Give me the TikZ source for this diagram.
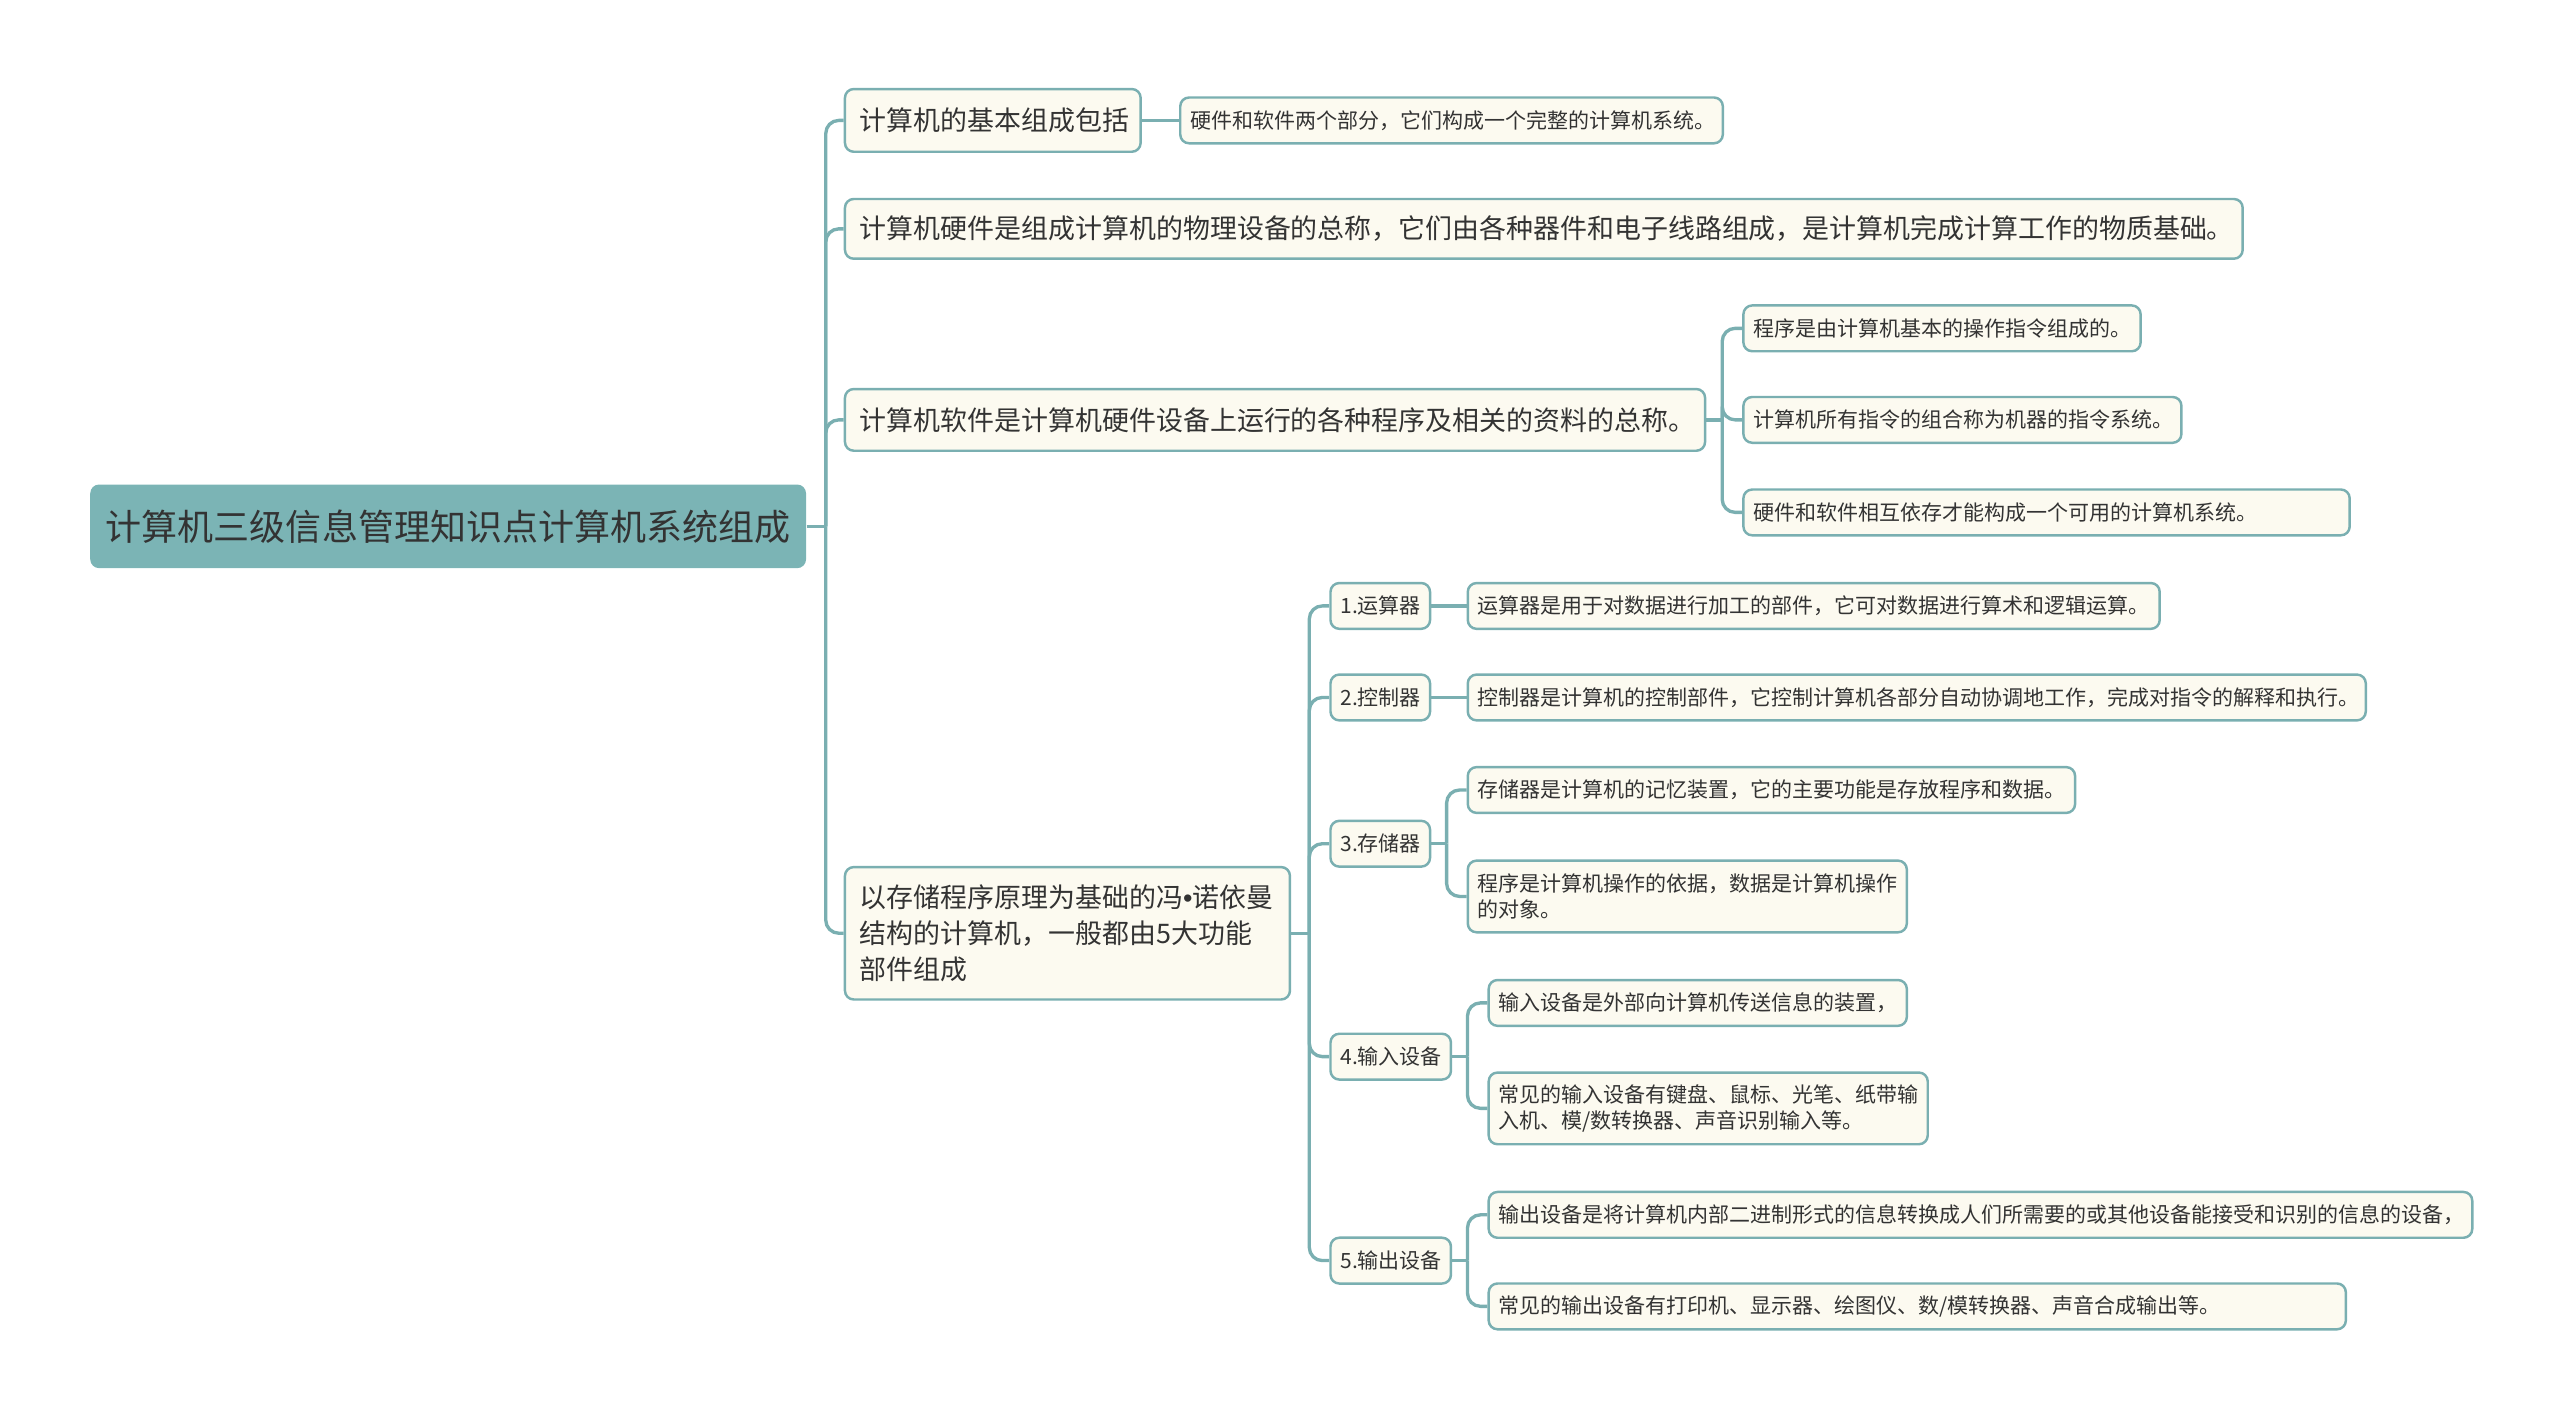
\documentclass[tikz,border=0pt]{standalone}
\usepackage{fontspec}
\setmainfont{Noto Sans CJK SC}
\newfontfamily\dotfont{Liberation Sans}
\definecolor{rootfill}{HTML}{7BB4B5}
\definecolor{branch}{HTML}{7AAFB1}
\definecolor{cream}{HTML}{FCFAF0}
\definecolor{ink}{HTML}{333333}

\begin{document}
\begin{tikzpicture}[x=0.01cm,y=-0.01cm,scale=0.995,every node/.style={transform shape},line join=round]
  \tikzstyle{box}=[draw=branch,fill=cream,line width=0.7pt,rounded corners=2.5pt,text=ink,anchor=west,align=left]
  \tikzstyle{root}=[fill=rootfill,rounded corners=2.5pt,text=ink,font=\fontsize{10.3}{12}\selectfont,minimum width=7.19cm,minimum height=0.84cm,inner sep=0pt,anchor=west]
  \tikzstyle{topic}=[box,font=\fontsize{7.7}{10.2}\selectfont,inner xsep=0.15cm,inner ysep=0pt]
  \tikzstyle{leaf}=[box,font=\fontsize{6}{7.5}\selectfont,inner xsep=0.1cm,inner ysep=0pt,minimum height=0.46cm]
  \tikzstyle{link}=[draw=branch,line width=0.95pt,rounded corners=0.13cm]

  \useasboundingbox (0,0) rectangle (2573,1428);

  \node[root] (root) at (90,529) {计算机三级信息管理知识点计算机系统组成};

  \node[topic,text width=2.67cm,minimum height=0.63cm] (A) at (848,121) {计算机的基本组成包括};
  \node[topic,text width=13.74cm,minimum height=0.60cm] (B) at (848,230) {计算机硬件是组成计算机的物理设备的总称，它们由各种器件和电子线路组成，是计算机完成计算工作的物质基础。};
  \node[topic,text width=8.34cm,minimum height=0.62cm] (C) at (848,422) {计算机软件是计算机硬件设备上运行的各种程序及相关的资料的总称。};
  \node[topic,text width=4.17cm,minimum height=1.33cm] (D) at (848,938) {以存储程序原理为基础的冯{\dotfont •}诺依曼\\结构的计算机，一般都由5大功能\\部件组成};

  \node[leaf,text width=5.25cm] (a1) at (1185,121) {硬件和软件两个部分，它们构成一个完整的计算机系统。};

  \node[leaf,text width=3.79cm] (c1) at (1751,330) {程序是由计算机基本的操作指令组成的。};
  \node[leaf,text width=4.20cm] (c2) at (1751,422) {计算机所有指令的组合称为机器的指令系统。};
  \node[leaf,text width=5.89cm] (c3) at (1751,515) {硬件和软件相互依存才能构成一个可用的计算机系统。};

  \node[leaf,text width=0.80cm] (d1) at (1336,609) {1.运算器};
  \node[leaf,text width=0.80cm] (d2) at (1336,701) {2.控制器};
  \node[leaf,text width=0.80cm] (d3) at (1336,848) {3.存储器};
  \node[leaf,text width=1.01cm] (d4) at (1336,1062) {4.输入设备};
  \node[leaf,text width=1.01cm] (d5) at (1336,1267) {5.输出设备};

  \node[leaf,text width=6.75cm] (e1) at (1474,609) {运算器是用于对数据进行加工的部件，它可对数据进行算术和逻辑运算。};
  \node[leaf,text width=8.82cm] (e2) at (1474,701) {控制器是计算机的控制部件，它控制计算机各部分自动协调地工作，完成对指令的解释和执行。};

  \node[leaf,text width=5.90cm] (f1) at (1474,794) {存储器是计算机的记忆装置，它的主要功能是存放程序和数据。};
  \node[leaf,text width=4.21cm,minimum height=0.72cm] (f2) at (1474,901) {程序是计算机操作的依据，数据是计算机操作\\的对象。};

  \node[leaf,text width=4.00cm] (g1) at (1495,1008) {输入设备是外部向计算机传送信息的装置，};
  \node[leaf,text width=4.21cm,minimum height=0.72cm] (g2) at (1495,1114) {常见的输入设备有键盘、鼠标、光笔、纸带输\\入机、模/数转换器、声音识别输入等。};

  \node[leaf,text width=9.68cm] (h1) at (1495,1221) {输出设备是将计算机内部二进制形式的信息转换成人们所需要的或其他设备能接受和识别的信息的设备，};
  \node[leaf,text width=8.41cm] (h2) at (1495,1313) {常见的输出设备有打印机、显示器、绘图仪、数/模转换器、声音合成输出等。};

  % trunk
  \coordinate (jR) at (830,529);
  \draw[link] (root.east) -- (jR);
  \foreach \dest in {A,B,C,D}
    \draw[link] (jR) |- (\dest.west);

  \draw[link] (A.east) -- (a1.west);

  \coordinate (jC) at (1731,422);
  \draw[link] (C.east) -- (jC);
  \foreach \dest in {c1,c2,c3}
    \draw[link] (jC) |- (\dest.west);

  \coordinate (jD) at (1316,938);
  \draw[link] (D.east) -- (jD);
  \foreach \i in {1,...,5}
    \draw[link] (jD) |- (d\i.west);

  \draw[link] (d1.east) -- (e1.west);
  \draw[link] (d2.east) -- (e2.west);

  \coordinate (j3) at (1454,848);
  \coordinate (j4) at (1475,1062);
  \coordinate (j5) at (1475,1267);
  \draw[link] (d3.east) -- (j3);
  \draw[link] (d4.east) -- (j4);
  \draw[link] (d5.east) -- (j5);
  \foreach \dest in {f1,f2}
    \draw[link] (j3) |- (\dest.west);
  \foreach \dest in {g1,g2}
    \draw[link] (j4) |- (\dest.west);
  \foreach \dest in {h1,h2}
    \draw[link] (j5) |- (\dest.west);

\end{tikzpicture}
\end{document}
